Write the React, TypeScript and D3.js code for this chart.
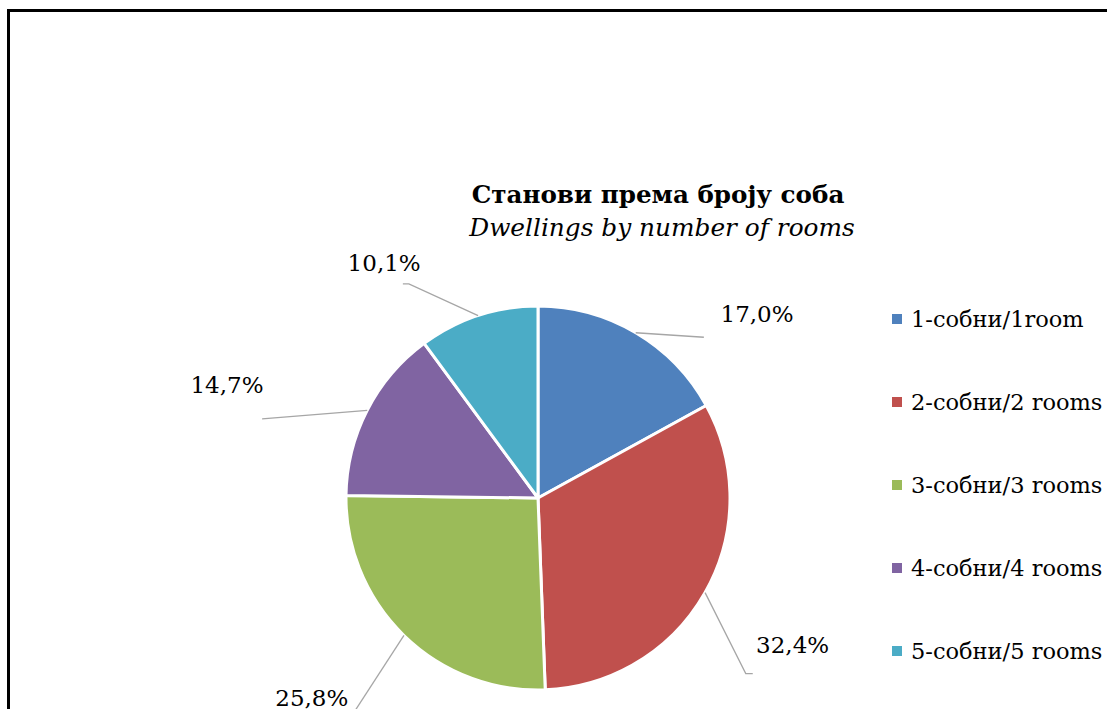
import React, { useEffect, useRef } from 'react';
import * as d3 from 'd3';

// slice data
const categories = ['1-собни/1room', '2-собни/2 rooms', '3-собни/3 rooms', '4-собни/4 rooms', '5-собни/5 rooms'];
const shares = [17.0, 32.4, 25.8, 14.7, 10.1];
const labels = ['17,0%', '32,4%', '25,8%', '14,7%', '10,1%'];
const colors = ['#4F81BD', '#C0504D', '#9BBB59', '#8064A2', '#4BACC6'];

const titleText = 'Станови према броју соба';
const subtitleText = 'Dwellings by number of rooms';

// label placement (polar, degrees clockwise from top)
const labelAngle = [50, 120, 228.5, 290, 326.8];
const labelRadius = [286, 294, 302, 331, 281];
const lineAngle = [45.9, 130.2, 220.2, 286, 328.9];
const lineRadius = [231, 272, 300, 287, 250];
const elbow = [0, 7, 0, 0, -6];

const W = 1107;
const H = 709;
const FONT = '"DejaVu Serif", serif';

const App: React.FC = () => {
    const ref = useRef<SVGSVGElement>(null);

    useEffect(() => {
        if (!ref.current) return;
        const svg = d3.select(ref.current);
        svg.selectAll('*').remove();

        svg.append('rect')
            .attr('width', W).attr('height', H).attr('fill', '#fff');

        // outer frame (cropped at right and bottom)
        svg.append('rect')
            .attr('x', 8.5).attr('y', 10.5)
            .attr('width', 1300).attr('height', 900)
            .attr('fill', 'none').attr('stroke', '#000').attr('stroke-width', 3);

        svg.append('text')
            .attr('x', 658).attr('y', 203)
            .attr('text-anchor', 'middle')
            .attr('font-family', FONT).attr('font-weight', 'bold').attr('font-size', 24.6)
            .text(titleText);
        svg.append('text')
            .attr('x', 662).attr('y', 236)
            .attr('text-anchor', 'middle')
            .attr('font-family', FONT).attr('font-style', 'italic').attr('font-size', 24.8)
            .text(subtitleText);

        const cx = 538, cy = 498, r = 192;
        const g = svg.append('g').attr('transform', `translate(${cx},${cy})`);

        const pie = d3.pie<number>().sort(null).value(d => d);
        const arcs = pie(shares);
        const arc = d3.arc<d3.PieArcDatum<number>>().innerRadius(0).outerRadius(r);

        g.selectAll('path.slice')
            .data(arcs)
            .enter().append('path')
            .attr('class', 'slice')
            .attr('d', arc)
            .attr('fill', (_, i) => colors[i])
            .attr('stroke', '#fff')
            .attr('stroke-width', 3)
            .attr('stroke-linejoin', 'round');

        const polar = (deg: number, rad: number): [number, number] => {
            const a = deg * Math.PI / 180;
            return [rad * Math.sin(a), -rad * Math.cos(a)];
        };

        arcs.forEach((d, i) => {
            const mid = (d.startAngle + d.endAngle) / 2;
            const p0: [number, number] = [r * Math.sin(mid), -r * Math.cos(mid)];
            const p1 = polar(lineAngle[i], lineRadius[i]);
            const pts: [number, number][] = [p0, p1];
            if (elbow[i] !== 0) pts.push([p1[0] + elbow[i], p1[1]]);
            g.append('path')
                .attr('d', d3.line()(pts))
                .attr('fill', 'none')
                .attr('stroke', '#A6A6A6')
                .attr('stroke-width', 1.3);

            const lp = polar(labelAngle[i], labelRadius[i]);
            g.append('text')
                .attr('x', lp[0]).attr('y', lp[1])
                .attr('dy', '0.35em')
                .attr('text-anchor', 'middle')
                .attr('font-family', FONT).attr('font-size', 23)
                .attr('fill', '#000')
                .text(labels[i]);
        });

        // legend
        const ly = d3.scalePoint<string>().domain(categories).range([319, 651]);
        const leg = svg.append('g');
        categories.forEach((c, i) => {
            const y = ly(c)!;
            leg.append('rect')
                .attr('x', 892).attr('y', y - 5)
                .attr('width', 10).attr('height', 10)
                .attr('fill', colors[i]);
            leg.append('text')
                .attr('x', 911).attr('y', y)
                .attr('dy', '0.35em')
                .attr('font-family', FONT).attr('font-size', 22.5)
                .attr('fill', '#000')
                .text(c);
        });
    }, []);

    return (
        <svg ref={ref} width={W} height={H}
            style={{ position: 'absolute', left: 0, top: 0, display: 'block' }} />
    );
};

export default App;
